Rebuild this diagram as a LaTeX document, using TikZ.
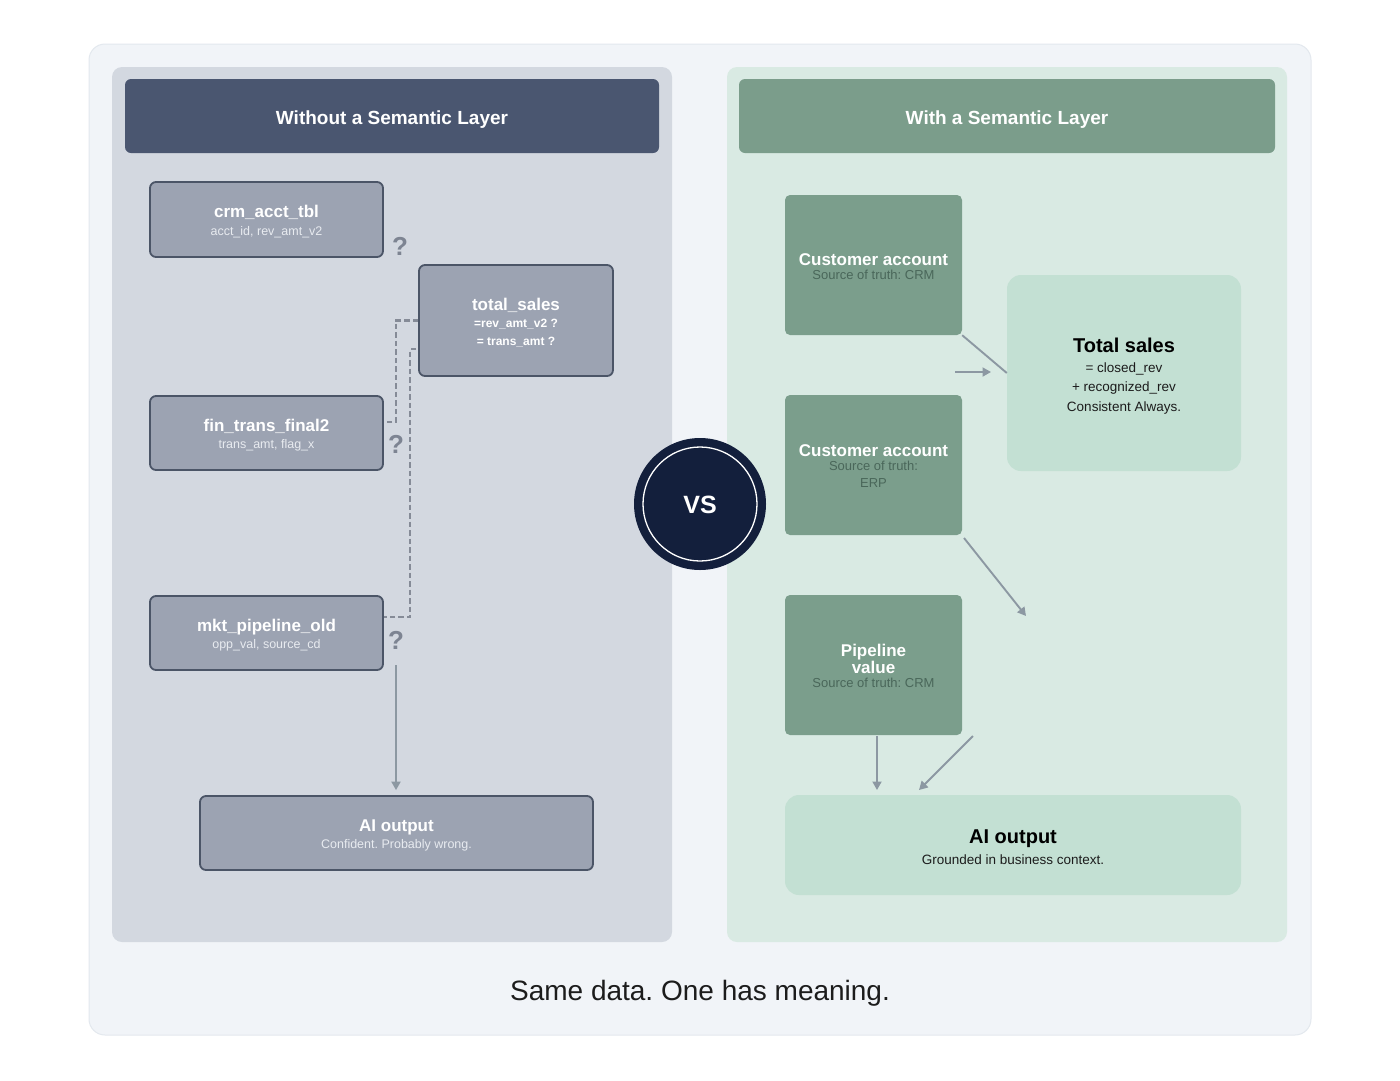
\documentclass[tikz,border=0pt]{standalone}
\usepackage{fontspec}
\setmainfont{Liberation Sans}
\usetikzlibrary{arrows.meta,calc}
\definecolor{framebg}{HTML}{F1F4F8}
\definecolor{framebd}{HTML}{E3E8EE}
\definecolor{leftpanel}{HTML}{D3D8E0}
\definecolor{lefthdr}{HTML}{4A5670}
\definecolor{lfill}{HTML}{9CA3B2}
\definecolor{lborder}{HTML}{4B5567}
\definecolor{lsub}{HTML}{E8EBF0}
\definecolor{qcol}{HTML}{7D8492}
\definecolor{dashcol}{HTML}{858B97}
\definecolor{rightpanel}{HTML}{D9EAE3}
\definecolor{righthdr}{HTML}{7B9D8B}
\definecolor{rfill}{HTML}{7B9E8C}
\definecolor{rsub}{HTML}{4A675A}
\definecolor{rlight}{HTML}{C3E0D3}
\definecolor{arrcol}{HTML}{8C98A2}
\definecolor{navy}{HTML}{131F3C}
\definecolor{captcol}{HTML}{1C1C1C}
\newcommand{\fs}[1]{\fontsize{#1}{#1}\selectfont}
\frenchspacing
\begin{document}
\begin{tikzpicture}[x=1pt,y=-1pt,
  hdrbox/.style={rounded corners=6pt, inner sep=0pt, minimum width=534pt, minimum height=74pt},
  lbox/.style={draw=lborder, line width=1.8pt, fill=lfill, rounded corners=6pt, inner sep=0pt},
  rbox/.style={fill=rfill, rounded corners=5pt, inner sep=0pt, minimum width=177pt, minimum height=140pt},
  lightbox/.style={fill=rlight, rounded corners=14pt, inner sep=0pt},
  tx/.style={inner sep=0pt, anchor=base},
  ltitle/.style={tx, text=white, font=\fs{17}\bfseries},
  lsubt/.style={tx, text=lsub, font=\fs{12.5}},
  rtitle/.style={tx, text=white, font=\fs{17}\bfseries},
  rsubt/.style={tx, text=rsub, font=\fs{13}},
  qmark/.style={tx, text=qcol, font=\fs{26}\bfseries},
  dashc/.style={draw=dashcol, line width=2.1pt, dash pattern=on 5.5pt off 3pt},
  arr/.style={draw=arrcol, line width=1.9pt, -{Triangle[length=8.5pt,width=9pt]}},
  plainline/.style={draw=arrcol, line width=1.9pt}
]
\useasboundingbox (0,0) rectangle (1400,1080);
\fill[white] (0,0) rectangle (1400,1080);
\draw[draw=framebd, fill=framebg, line width=1pt, rounded corners=16pt] (89,44) rectangle (1311,1035);
\fill[leftpanel, rounded corners=10pt] (112,67) rectangle (672,942);
\fill[rightpanel, rounded corners=10pt] (727,67) rectangle (1287,942);

% headers
\node[hdrbox, fill=lefthdr] (lh) at (392,116) {};
\node[tx, text=white, font=\fs{19}\bfseries] (lht) at (392,124) {Without a Semantic Layer};
\node[hdrbox, fill=righthdr, minimum width=536pt] (rh) at (1007,116) {};
\node[tx, text=white, font=\fs{19}\bfseries] (rht) at (1007,124) {With a Semantic Layer};

% left boxes
\node[lbox, minimum width=233pt, minimum height=75pt] (crm) at (266.5,219.5) {};
\node[ltitle] (crmt) at (266.5,217) {crm\_acct\_tbl};
\node[lsubt] (crms) at (266.5,235.5) {acct\_id, rev\_amt\_v2};

\node[lbox, minimum width=194pt, minimum height=111pt] (ts) at (516,320.5) {};
\node[ltitle] (tst) at (516,310) {total\_sales};
\node[tx, text=white, font=\fs{12}\bfseries] (tss1) at (516,327.5) {=rev\_amt\_v2 ?};
\node[tx, text=white, font=\fs{12}\bfseries] (tss2) at (516,345.5) {= trans\_amt ?};

\node[lbox, minimum width=233pt, minimum height=74pt] (fin) at (266.5,433) {};
\node[ltitle] (fint) at (266.5,431) {fin\_trans\_final2};
\node[lsubt] (fins) at (266.5,448.5) {trans\_amt, flag\_x};

\node[lbox, minimum width=233pt, minimum height=74pt] (mkt) at (266.5,633) {};
\node[ltitle] (mktt) at (266.5,631) {mkt\_pipeline\_old};
\node[lsubt] (mkts) at (266.5,648.5) {opp\_val, source\_cd};

\node[lbox, minimum width=393pt, minimum height=74pt] (ail) at (396.5,833) {};
\node[ltitle] (ailt) at (396.5,831) {AI output};
\node[lsubt] (ails) at (396.5,848.5) {Confident. Probably wrong.};

% question marks
\node[qmark] (q1) at (400,255.5) {?};
\node[qmark] (q2) at (396,453.5) {?};
\node[qmark] (q3) at (396,649.5) {?};

% dashed connectors
\coordinate (d1) at (396,422);
\draw[dashc] (ts.west) -| (d1) -- (d1 -| fin.east);
\coordinate (d2a) at (416,349);
\coordinate (d2b) at (410,617);
\draw[dashc] (d2a) -| (d2b) -- (d2b -| mkt.east);
\coordinate (a1) at (396,665);
\draw[arr] (a1) -- ($(ail.north)+(-0.5,-5)$);

% VS
\node[circle, fill=navy, minimum size=132pt, inner sep=0pt] (vs) at (700,504) {};
\draw[white, line width=1.3pt] (vs.center) circle (57pt);
\node[tx, text=white, font=\fs{25}\bfseries] (vst) at (700,513) {VS};

% right boxes
\node[rbox] (cacrm) at (873.5,265) {};
\node[rtitle] (cacrmt) at (873.5,265) {Customer account};
\node[rsubt] (cacrms) at (873.5,279.7) {Source of truth: CRM};

\node[rbox] (caerp) at (873.5,465) {};
\node[rtitle] (caerpt) at (873.5,456) {Customer account};
\node[rsubt] (caerps1) at (873.5,470.7) {Source of truth:};
\node[rsubt] (caerps2) at (873.5,487.7) {ERP};

\node[rbox] (pipe) at (873.5,665) {};
\node[rtitle] (pipet1) at (873.5,656) {Pipeline};
\node[rtitle] (pipet2) at (873.5,673) {value};
\node[rsubt] (pipes) at (873.5,687.7) {Source of truth: CRM};

\node[lightbox, minimum width=234pt, minimum height=196pt] (tot) at (1124,373) {};
\node[tx, text=black, font=\fs{20}\bfseries] (tott) at (1124,352) {Total sales};
\node[tx, text=captcol, font=\fs{13.5}] (tots1) at (1124,372) {= closed\_rev};
\node[tx, text=captcol, font=\fs{13.5}] (tots2) at (1124,391) {+ recognized\_rev};
\node[tx, text=captcol, font=\fs{13.5}] (tots3) at (1124,411) {Consistent Always.};

\node[lightbox, minimum width=456pt, minimum height=100pt] (air) at (1013,845) {};
\node[tx, text=black, font=\fs{20}\bfseries] (airt) at (1013,843) {AI output};
\node[tx, text=captcol, font=\fs{13.5}] (airs) at (1013,864) {Grounded in business context.};

% right connectors
\draw[plainline] (cacrm.south east) -- (tot.west);
\coordinate (r1s) at (955,372);
\coordinate (r1e) at (991,372);
\draw[arr] (r1s) -- (r1e);
\coordinate (r2s) at (964,538);
\coordinate (r2e) at (1026,616);
\draw[arr] (r2s) -- (r2e);
\coordinate (r3s) at (877,736);
\coordinate (r3e) at (877,790);
\draw[arr] (r3s) -- (r3e);
\coordinate (r4s) at (973,736);
\coordinate (r4e) at (919,790);
\draw[arr] (r4s) -- (r4e);

% caption
\node[tx, text=captcol, font=\fs{28}] (cap) at (700,1000) {Same data. One has meaning.};
\end{tikzpicture}
\end{document}
